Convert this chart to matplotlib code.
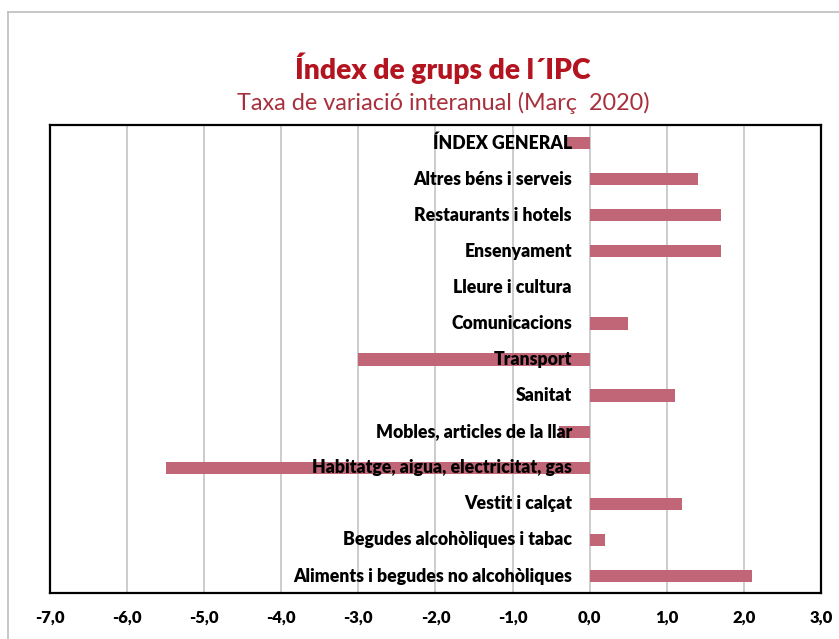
import matplotlib
matplotlib.use("Agg")
import matplotlib.pyplot as plt
from matplotlib.lines import Line2D

categories = [
    "Aliments i begudes no alcohòliques",
    "Begudes alcohòliques i tabac",
    "Vestit i calçat",
    "Habitatge, aigua, electricitat, gas",
    "Mobles, articles de la llar",
    "Sanitat",
    "Transport",
    "Comunicacions",
    "Lleure i cultura",
    "Ensenyament",
    "Restaurants i hotels",
    "Altres béns i serveis",
    "ÍNDEX GENERAL",
]
values = [2.1, 0.2, 1.2, -5.5, -0.4, 1.1, -3.0, 0.5, 0.0, 1.7, 1.7, 1.4, -0.3]
xticks = [-7, -6, -5, -4, -3, -2, -1, 0, 1, 2, 3]
xtick_labels = ["-7,0", "-6,0", "-5,0", "-4,0", "-3,0", "-2,0", "-1,0", "0,0", "1,0", "2,0", "3,0"]
title = "Índex de grups de l´IPC"
subtitle = "Taxa de variació interanual (Març  2020)"

plt.rcParams['font.family'] = ['Lato', 'DejaVu Sans']

W, H = 839, 639
fig = plt.figure(figsize=(W / 100, H / 100), dpi=100)
fig.patch.set_facecolor('white')

ax = fig.add_axes([50 / W, 1 - 593 / H, (821 - 50) / W, (593 - 125) / H])

ypos = list(range(len(categories)))
ax.barh(ypos, values, height=0.34, color='#c06677', zorder=2)

ax.set_xlim(-7, 3)
ax.set_ylim(-0.47, 12.5)
ax.set_xticks(xticks)
ax.set_xticklabels(xtick_labels, fontweight='heavy', fontsize=12)
ax.set_yticks([])
ax.tick_params(axis='x', length=0, pad=12)
ax.grid(axis='x', color='#c4c4c4', linewidth=1.2, zorder=1)
ax.set_axisbelow(True)
for s in ax.spines.values():
    s.set_color('black')
    s.set_linewidth(1.6)
    s.set_zorder(4)

for y, lab in zip(ypos, categories):
    ax.text(-0.23, y, lab, ha='right', va='center', fontsize=12.7,
            fontweight='heavy', color='black', zorder=3)

fig.text(443 / W, 1 - 68 / H, title, ha='center', va='center', fontsize=20.3,
         fontweight='heavy', color='#b3141f')
fig.text(443 / W, 1 - 103 / H, subtitle, ha='center', va='center', fontsize=16.8,
         color='#a8303c')

# outer chart frame
fig.add_artist(Line2D([8 / W, 8 / W], [0, 1 - 12 / H], transform=fig.transFigure,
                      color='#bdbdbd', linewidth=1.2))
fig.add_artist(Line2D([8 / W, 1], [1 - 12 / H, 1 - 12 / H], transform=fig.transFigure,
                      color='#bdbdbd', linewidth=1.2))

fig.savefig("out.png", dpi=100)
